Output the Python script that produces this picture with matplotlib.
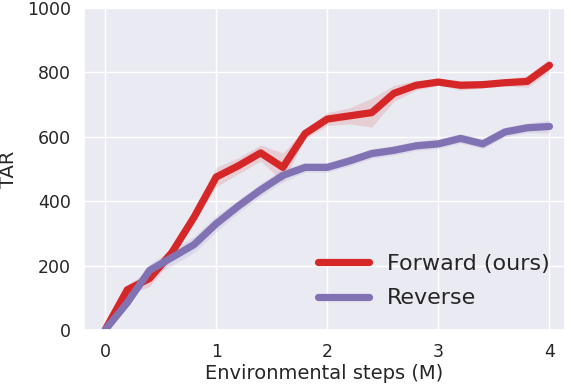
import numpy as np
import matplotlib
matplotlib.use("Agg")
import matplotlib.pyplot as plt
import seaborn as sns

steps = [0.0, 0.2, 0.4, 0.6, 0.8, 1.0, 1.2, 1.4, 1.6, 1.8, 2.0,
         2.2, 2.4, 2.6, 2.8, 3.0, 3.2, 3.4, 3.6, 3.8, 4.0]
forward = [0, 125, 160, 240, 350, 475, 510, 550, 505, 610, 655,
           665, 675, 735, 760, 770, 760, 762, 768, 772, 822]
forward_std = [0, 15, 25, 20, 15, 30, 25, 25, 45, 15, 20,
               25, 45, 25, 15, 10, 15, 10, 10, 18, 20]
reverse = [0, 85, 185, 225, 265, 330, 385, 435, 480, 505, 505,
           525, 548, 558, 572, 578, 595, 578, 615, 628, 632]
reverse_std = [0, 10, 20, 25, 25, 25, 20, 20, 20, 15, 15,
               15, 15, 15, 15, 15, 15, 15, 15, 15, 20]
series_names = ["Forward (ours)", "Reverse"]
colors = ["#d62728", "#8172b3"]
xticks = [0, 1, 2, 3, 4]
yticks = [0, 200, 400, 600, 800, 1000]

sns.set_theme(style="darkgrid")
plt.rcParams['font.family'] = ['DejaVu Sans']

fig = plt.figure(figsize=(5.71, 3.87), dpi=100)
ax = fig.add_axes([84/571, 1 - 330/387, (565-84)/571, (330-8)/387])

x = np.array(steps)
for vals, std, name, c in [(forward, forward_std, series_names[0], colors[0]),
                           (reverse, reverse_std, series_names[1], colors[1])]:
    v = np.array(vals, dtype=float)
    s = np.array(std, dtype=float)
    ax.fill_between(x, v - s, v + s, color=c, alpha=0.14, linewidth=0)
    ax.plot(x, v, color=c, lw=5.2, label=name, solid_capstyle='round')

ax.set_xlim(-0.19, 4.14)
ax.set_ylim(0, 1000)
ax.set_xticks(xticks)
ax.set_yticks(yticks)
ax.tick_params(labelsize=12.5, colors="#262626")
ax.set_xlabel("Environmental steps (M)", fontsize=14, color="#262626", labelpad=2)
ax.set_ylabel("TAR", fontsize=14, color="#262626", labelpad=6)
leg = ax.legend(loc="lower right", fontsize=16, frameon=False, handlelength=2.3,
                borderaxespad=0.8, labelspacing=0.65,
                bbox_to_anchor=(1 + 11/481, -5/322))
for t in leg.get_texts():
    t.set_color("#262626")

fig.savefig("out.png", dpi=100)
